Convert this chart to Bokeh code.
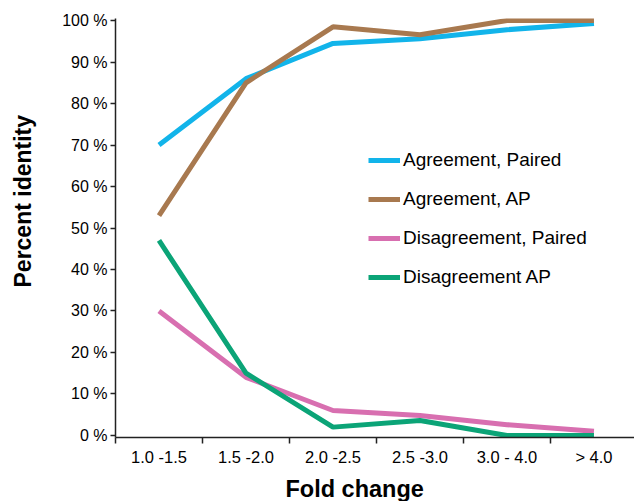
from bokeh.plotting import figure
from bokeh.models import FixedTicker, PrintfTickFormatter, Range1d, Legend, LegendItem, Title
from bokeh.embed import file_html
from bokeh.resources import INLINE

categories = ["1.0 -1.5", "1.5 -2.0", "2.0 -2.5", "2.5 -3.0", "3.0 - 4.0", "> 4.0"]
agree_paired = [70, 86, 94.5, 95.6, 97.8, 99.3]
agree_ap = [53, 85, 98.5, 96.6, 100, 100]
disagree_paired = [30, 14, 6, 4.8, 2.6, 1]
disagree_ap = [47, 15, 2, 3.6, 0, 0]

series = [
    ("Agreement, Paired", agree_paired, "#12b4ea"),
    ("Agreement, AP", agree_ap, "#a8794f"),
    ("Disagreement, Paired", disagree_paired, "#d86fb0"),
    ("Disagreement AP", disagree_ap, "#0ba477"),
]

xs = [i + 0.5 for i in range(len(categories))]

p = figure(width=634, height=501, output_backend="svg", toolbar_location=None,
           x_range=Range1d(0, 5.966), y_range=Range1d(-0.5, 100.5),
           min_border_left=115, min_border_right=0, min_border_top=18, min_border_bottom=64)
p.outline_line_color = None
p.xgrid.visible = False
p.ygrid.visible = False
p.background_fill_color = "white"
p.border_fill_color = "white"

items = []
for name, vals, col in series:
    r = p.line(xs, vals, line_color=col, line_width=5)
    items.append(LegendItem(label=name, renderers=[r]))

legend = Legend(items=items, location=(253, 149))
legend.glyph_width = 32
legend.glyph_height = 22
legend.label_height = 22
legend.label_standoff = 3
legend.spacing = 17
legend.padding = 0
legend.margin = 0
legend.border_line_color = None
legend.background_fill_alpha = 0
legend.label_text_font = "Liberation Sans"
legend.label_text_font_size = "19px"
legend.label_text_color = "black"
p.add_layout(legend, "center")

# x axis
xa = p.xaxis[0]
xa.ticker = FixedTicker(ticks=xs, minor_ticks=list(range(0, 7)))
xa.major_label_overrides = {x: c for x, c in zip(xs, categories)}
xa.major_tick_line_color = None
xa.major_tick_out = 6
xa.major_tick_in = 0
xa.minor_tick_out = 6
xa.minor_tick_in = 0
xa.minor_tick_line_color = "#222222"
xa.minor_tick_line_width = 1.5
xa.axis_line_color = "#222222"
xa.axis_line_width = 1.5
xa.major_label_standoff = 4
xa.major_label_text_font = "Liberation Sans"
xa.major_label_text_font_size = "16.5px"
xa.major_label_text_color = "black"
xa.axis_label = " "
xa.axis_label_text_font_size = "1px"
xa.axis_label_standoff = 1

# y axis
ya = p.yaxis[0]
ya.ticker = FixedTicker(ticks=list(range(0, 101, 10)))
ya.formatter = PrintfTickFormatter(format="%d %%")
ya.major_tick_out = 5
ya.major_tick_in = 0
ya.major_tick_line_color = "#222222"
ya.major_tick_line_width = 1.5
ya.minor_tick_line_color = None
ya.axis_line_color = "#222222"
ya.axis_line_width = 1.5
ya.major_label_standoff = 3
ya.major_label_text_font = "Liberation Sans"
ya.major_label_text_font_size = "16px"
ya.major_label_text_color = "black"
ya.axis_label = " "
ya.axis_label_text_font_size = "1px"
ya.axis_label_standoff = 20

# axis titles
xt = Title(text="Fold change", align="left", offset=170, standoff=0,
           text_font="Liberation Sans", text_font_style="bold",
           text_font_size="23.5px", text_color="black")
p.add_layout(xt, "below")
yt = Title(text="Percent identity", align="left", offset=150, standoff=0,
           text_font="Liberation Sans", text_font_style="bold",
           text_font_size="23px", text_color="black")
p.add_layout(yt, "left")

open("out.html", "w").write(file_html(p, INLINE))
